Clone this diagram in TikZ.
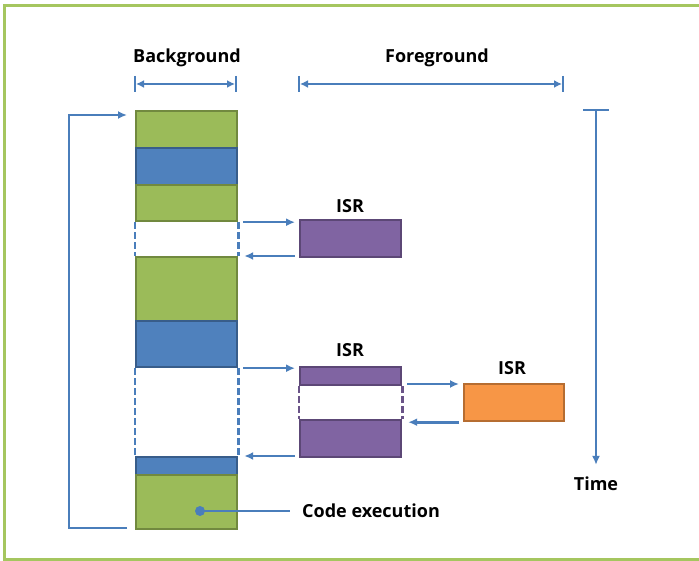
\documentclass[tikz,border=0pt]{standalone}
\usepackage{fontspec}
\setmainfont{Open Sans}
\usetikzlibrary{arrows.meta,calc}
\definecolor{frameg}{HTML}{A5C65F}
\definecolor{gfill}{HTML}{9BBB59}
\definecolor{gline}{HTML}{71893F}
\definecolor{bfill}{HTML}{4F81BD}
\definecolor{bline}{HTML}{385D8A}
\definecolor{pfill}{HTML}{8064A2}
\definecolor{pline}{HTML}{5C4776}
\definecolor{ofill}{HTML}{F79646}
\definecolor{oline}{HTML}{B66D31}
\definecolor{arrc}{HTML}{4A7EBB}
\tikzset{
  seg/.style={draw, line width=2.2pt, inner sep=0pt, anchor=north west, minimum width=101pt},
  gseg/.style={seg, fill=gfill, draw=gline},
  bseg/.style={seg, fill=bfill, draw=bline},
  pseg/.style={seg, fill=pfill, draw=pline},
  oseg/.style={seg, fill=ofill, draw=oline, minimum width=100pt},
  arr/.style={draw=arrc, line width=2.6pt, -{Latex[length=9pt,width=8pt]}},
  plain/.style={draw=arrc, line width=2.6pt},
  gapline/.style={draw=arrc, line width=2.6pt, dash pattern=on 7pt off 3pt},
  pgapline/.style={draw=pline!60!pfill, line width=2.6pt, dash pattern=on 7pt off 3pt},
  lbl/.style={font=\fontsize{18}{21}\selectfont\bfseries, inner sep=0pt}
}
\begin{document}
\begin{tikzpicture}[x=1pt,y=-1pt]
\useasboundingbox (0,0) rectangle (699,561);
\fill[white] (0,0) rectangle (699,561);
\draw[frameg, line width=3pt] (699,6) -- (4,6) -- (4,559) -- (699,559);

% background column
\node[gseg, minimum height=37pt] (g1) at (135,110) {};
\node[bseg, minimum height=37pt] (b1) at (135,147) {};
\node[gseg, minimum height=36pt] (g2) at (135,184) {};
\node[gseg, minimum height=64pt] (g3) at (135,256) {};
\node[bseg, minimum height=46pt] (b2) at (135,320) {};
\node[bseg, minimum height=18pt] (b3) at (135,456) {};
\node[gseg, minimum height=54pt] (g4) at (135,474) {};
\draw[gapline] (g2.south west) -- (g3.north west);
\draw[gapline] (g2.south east) -- (g3.north east);
\draw[gapline] (b2.south west) -- (b3.north west);
\draw[gapline] (b2.south east) -- (b3.north east);

% ISR boxes
\node[pseg, minimum height=37pt] (i1) at (299,219) {};
\node[pseg, minimum height=18pt] (i2a) at (299,366) {};
\node[pseg, minimum height=37pt] (i2b) at (299,419) {};
\node[oseg, minimum height=37pt] (i3) at (463,383) {};
\draw[pgapline] (i2a.south west) -- (i2b.north west);
\draw[pgapline] (i2a.south east) -- (i2b.north east);

\node[lbl] (t1) at (350,206) {ISR};
\node[lbl] (t2) at (350,350) {ISR};
\node[lbl] (t3) at (512,368) {ISR};

% labels and brackets
\node[lbl] (bg) at (187,58) {Background};
\node[lbl] (fg) at (437,58) {Foreground};
\coordinate (bgl) at (135,84);
\coordinate (bgr) at (236,84);
\coordinate (fgl) at (299,84);
\coordinate (fgr) at (563,84);
\draw[plain] ($(bgl)+(0,-8)$) -- ($(bgl)+(0,8)$);
\draw[plain] ($(bgr)+(0,-8)$) -- ($(bgr)+(0,8)$);
\draw[plain] ($(fgl)+(0,-8)$) -- ($(fgl)+(0,8)$);
\draw[plain] ($(fgr)+(0,-8)$) -- ($(fgr)+(0,8)$);
\draw[plain, {Latex[length=8pt,width=8pt]}-{Latex[length=8pt,width=8pt]}] ($(bgl)+(1,0)$) -- ($(bgr)+(-1,0)$);
\draw[plain, {Latex[length=8pt,width=8pt]}-{Latex[length=8pt,width=8pt]}] ($(fgl)+(1,0)$) -- ($(fgr)+(-1,0)$);

% time axis
\coordinate (tt) at (596,110);
\node[lbl] (time) at (596,484) {Time};
\draw[plain] ($(tt)+(-13,0)$) -- ($(tt)+(13,0)$);
\draw[arr] (tt) -- ($(time.north)+(0,-12)$);

% loop arrow
\coordinate (lb) at (127,528);
\coordinate (lt) at (127,115);
\draw[arr] (lb) -- (69,528) -- (69,115) -- (lt);

% interrupt arrows
\draw[arr] ($(g2.south east)+(5,0)$) -- ($(g2.south east -| i1.west)+(-4,0)$);
\draw[arr] ($(g3.north east -| i1.west)+(-4,0)$) -- ($(g3.north east)+(6,0)$);
\draw[arr] ($(b2.south east)+(5,0)$) -- ($(b2.south east -| i2a.west)+(-4,0)$);
\draw[arr] ($(b3.north east -| i2b.west)+(-4,0)$) -- ($(b3.north east)+(6,0)$);
\draw[arr] ($(i3.north west -| i2a.east)+(5,1)$) -- ($(i3.north west)+(-4,1)$);
\draw[arr] ($(i3.south west)+(-4,0)$) -- ($(i3.south west -| i2b.east)+(6,0)$);

% code execution
\node[lbl, anchor=west] (ce) at (302,511) {Code execution};
\coordinate (dot) at (200,511);
\fill[arrc] (dot) circle (5pt);
\draw[plain] (dot) -- ($(ce.west)+(-12,0)$);
\end{tikzpicture}
\end{document}
